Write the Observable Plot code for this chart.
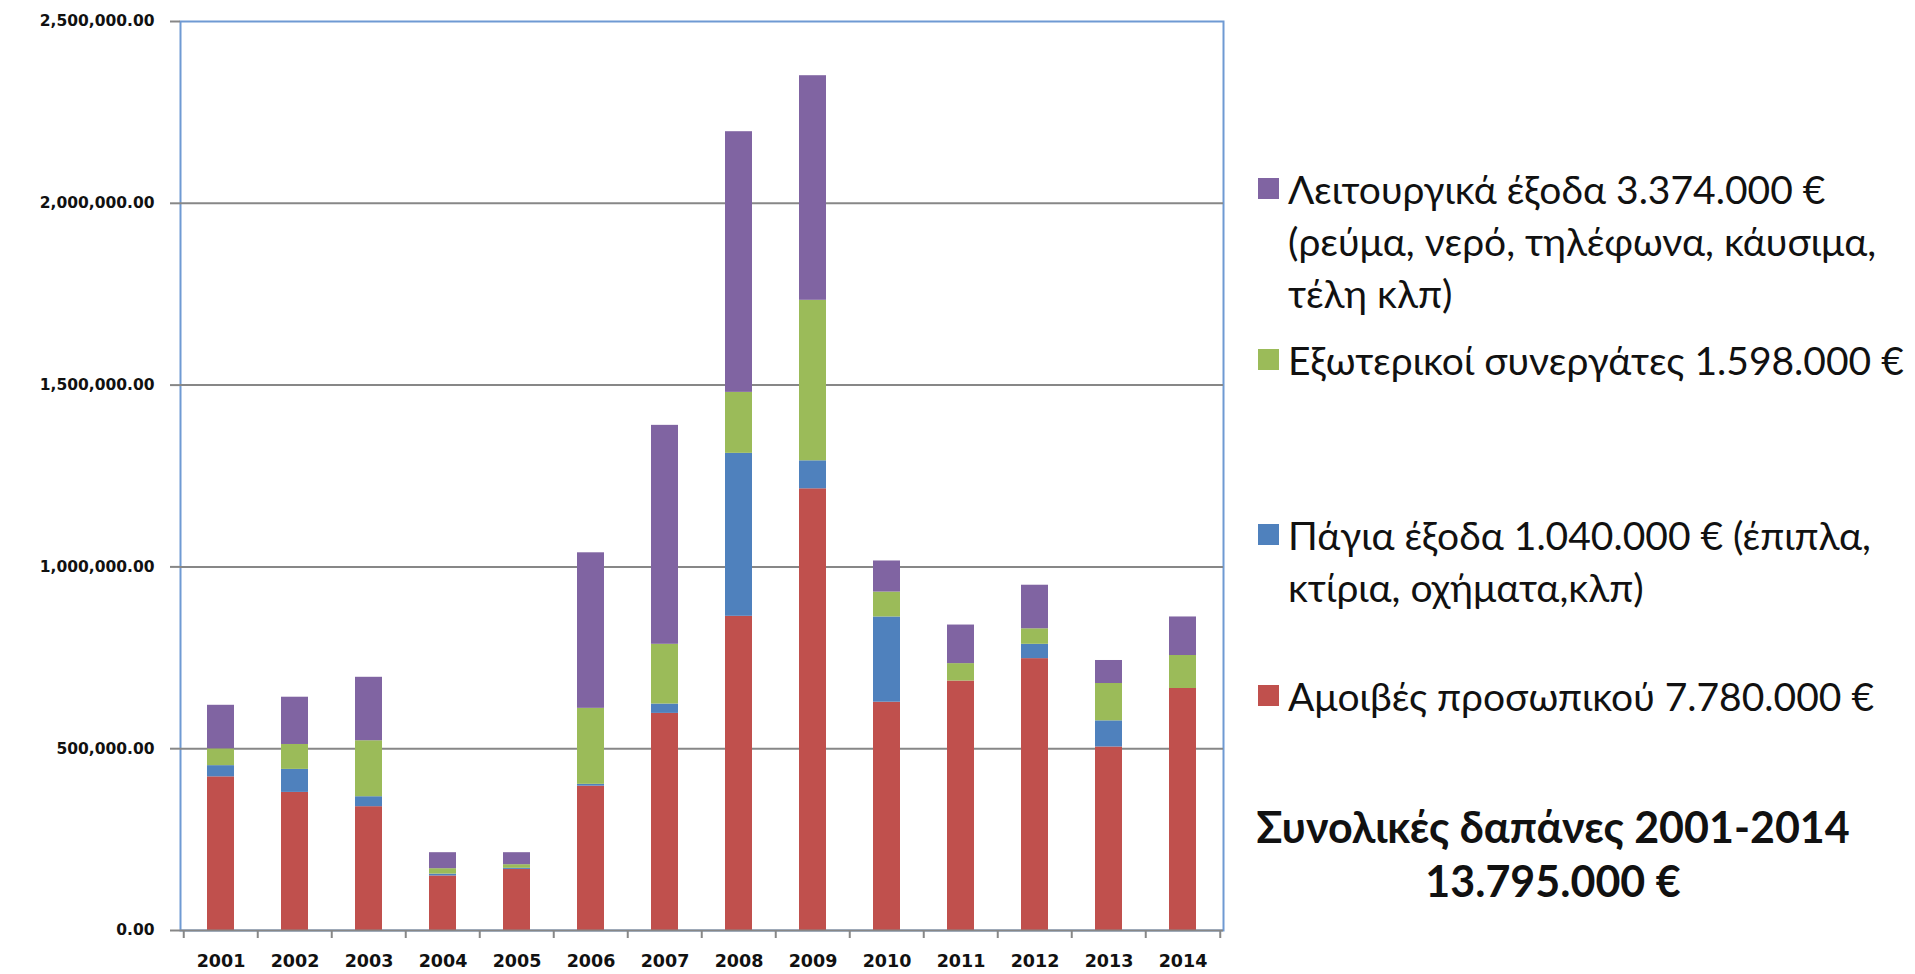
<!DOCTYPE html>
<html>
<head>
<meta charset="utf-8">
<script src="https://cdn.jsdelivr.net/npm/d3@7"></script>
<script src="https://cdn.jsdelivr.net/npm/@observablehq/plot@0.6"></script>
<style>
  html, body { margin: 0; padding: 0; background: #fff; }
  #wrap { position: relative; width: 1915px; height: 974px; overflow: hidden; }
  #chart { position: absolute; left: 0; top: 0; }
  .leg { position: absolute; left: 1258px; font-family: Lato, "Open Sans", sans-serif; font-size: 39px; line-height: 52px; color: #111; white-space: pre; }
  .leg .sw { position: absolute; left: 0; top: 15px; width: 21px; height: 21px; }
  .leg .tx { position: absolute; left: 30px; top: 0; }
  #total { position: absolute; left: 1253px; top: 800px; width: 600px; text-align: center; font-family: Lato, "Open Sans", sans-serif; font-weight: bold; font-size: 43px; line-height: 54px; color: #111; }
</style>
</head>
<body>
<div id="wrap">
  <div id="chart"></div>
</div>
<script>
// ---- data ----
const years = ["2001","2002","2003","2004","2005","2006","2007","2008","2009","2010","2011","2012","2013","2014"];
const amoibes     = [422600, 379800, 340500, 150000, 168000, 397000, 597100, 864100, 1214800, 627900, 686100, 747700, 504700, 665600];
const pagia       = [ 30800,  63300,  27400,   5000,   3000,   5000,  25700, 448200,   77000, 234400,      0,  39400,  71900,      0];
const exoterikoi  = [ 46200,  68500, 154000,  15000,  10000, 209000, 164300, 167700,  441400,  68500,  47900,  42700, 102700,  90700];
const leitourgika = [119800, 130000, 174500,  44000,  33000, 427800, 602200, 716900,  617700,  85500, 106100, 119800,  63300, 106000];

const seriesKeys = ["Αμοιβές προσωπικού", "Πάγια έξοδα", "Εξωτερικοί συνεργάτες", "Λειτουργικά έξοδα"];
const seriesColors = ["#C0504D", "#4F81BD", "#9BBB59", "#8064A2"];
const seriesValues = [amoibes, pagia, exoterikoi, leitourgika];
const legendLabels = [
  "Αμοιβές προσωπικού 7.780.000 €",
  "Πάγια έξοδα 1.040.000 € (έπιπλα,\nκτίρια, οχήματα,κλπ)",
  "Εξωτερικοί συνεργάτες 1.598.000 €",
  "Λειτουργικά έξοδα 3.374.000 €\n(ρεύμα, νερό, τηλέφωνα, κάυσιμα,\nτέλη κλπ)"
];
const yTicks = [0, 500000, 1000000, 1500000, 2000000, 2500000];
const totalTitle = "Συνολικές δαπάνες 2001-2014";
const totalValue = "13.795.000 €";

// ---- build table ----
const data = [];
seriesKeys.forEach((s, si) => {
  years.forEach((y, i) => data.push({year: y, series: s, value: seriesValues[si][i]}));
});

const W = 1240, H = 974, mL = 180, mR = 17, mT = 21, mB = 44;
const step = (W - mL - mR) / years.length;
const gray = "#878787", blue = "#6F9AD3";

const chart = Plot.plot({
  width: W, height: H,
  marginLeft: mL, marginRight: mR, marginTop: mT, marginBottom: mB,
  style: {fontFamily: "'DejaVu Sans', sans-serif", background: "#fff"},
  x: {domain: years, paddingInner: 0.63, paddingOuter: 0.315, label: null, axis: null},
  y: {domain: [0, 2500000], label: null, axis: null},
  color: {domain: seriesKeys, range: seriesColors},
  marks: [
    Plot.frame({stroke: blue, strokeWidth: 2}),
    Plot.ruleY(yTicks.filter(d => d > 0 && d < 2500000), {stroke: gray, strokeWidth: 2}),
    Plot.barY(data, {x: "year", y: "value", fill: "series", z: "series", order: seriesKeys}),
    Plot.ruleY([0], {stroke: gray, strokeWidth: 2}),
    Plot.axisY({ticks: yTicks, tickFormat: d3.format(",.2f"), tickSize: 10, tickPadding: 16,
      line: true, stroke: gray, strokeWidth: 2, fill: "#111", fontSize: 15.5, fontWeight: "bold"}),
    Plot.ruleX(years, {x: d => d, dx: -step / 2, y1: 0, y2: 0, insetBottom: -8, stroke: gray, strokeWidth: 2}),
    Plot.ruleX([years[years.length - 1]], {x: d => d, dx: step / 2, y1: 0, y2: 0, insetBottom: -8, stroke: gray, strokeWidth: 2}),
    Plot.axisX({tickSize: 0, tickPadding: 24, fill: "#111", fontSize: 17.5, fontWeight: "bold"})
  ]
});
document.getElementById("chart").appendChild(chart);

// ---- legend (top to bottom: reverse of stacking order) ----
const wrap = document.getElementById("wrap");
const legendTops = [163, 334, 509, 670];
[3, 2, 1, 0].forEach((si, k) => {
  const d = document.createElement("div");
  d.className = "leg";
  d.style.top = legendTops[k] + "px";
  const sw = document.createElement("div");
  sw.className = "sw";
  sw.style.background = seriesColors[si];
  const tx = document.createElement("div");
  tx.className = "tx";
  tx.textContent = legendLabels[si];
  d.appendChild(sw); d.appendChild(tx);
  wrap.appendChild(d);
});
const t = document.createElement("div");
t.id = "total";
t.textContent = totalTitle + "\n" + totalValue;
t.style.whiteSpace = "pre";
wrap.appendChild(t);
</script>
</body>
</html>
